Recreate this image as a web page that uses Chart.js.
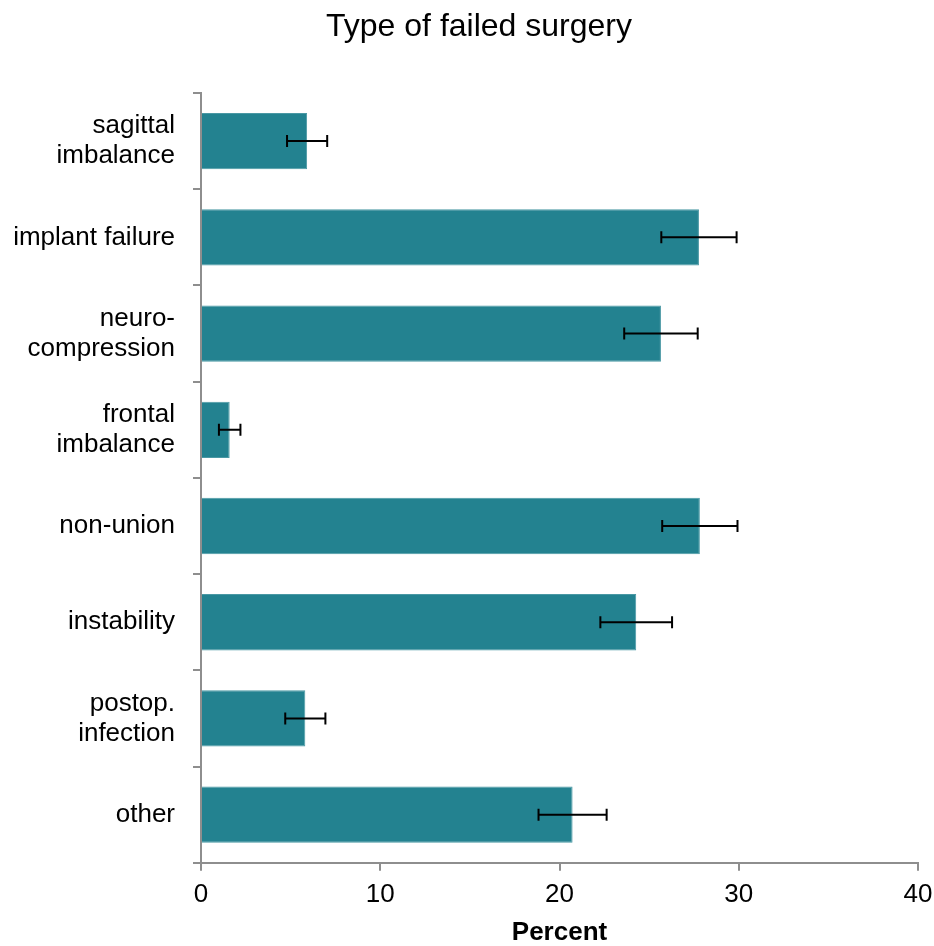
<!DOCTYPE html>
<html>
<head>
<meta charset="utf-8">
<script src="https://cdn.jsdelivr.net/npm/chart.js@4"></script>
<style>
html,body{margin:0;padding:0;background:#fff;}
#wrap{width:934px;height:946px;}
</style>
</head>
<body>
<div id="wrap"><canvas id="c" width="934" height="946"></canvas></div>
<script>
const categories = [["sagittal","imbalance"],"implant failure",["neuro-","compression"],["frontal","imbalance"],"non-union","instability",["postop.","infection"],"other"];
const percentValues = [5.92, 27.78, 25.66, 1.6, 27.83, 24.28, 5.82, 20.73];
const errorValues = [1.12, 2.1, 2.05, 0.6, 2.1, 2.0, 1.12, 1.9];
const xTicks = [0, 10, 20, 30, 40];

const FONT = "'Liberation Sans', Arial, sans-serif";
const AXIS_GRAY = '#8e8e8e';

const errorBarPlugin = {
  id: 'errorBars',
  afterLayout(chart) {
    // let the category labels use the space left of the axis box
    chart.scales.y.left = 0;
  },
  afterDatasetsDraw(chart) {
    const ctx = chart.ctx;
    const meta = chart.getDatasetMeta(0);
    const xs = chart.scales.x;
    ctx.save();
    ctx.strokeStyle = '#000';
    ctx.lineWidth = 2;
    meta.data.forEach((bar, i) => {
      const v = percentValues[i], e = errorValues[i];
      const x1 = xs.getPixelForValue(v - e);
      const x2 = xs.getPixelForValue(v + e);
      const y = bar.y;
      const cap = 6;
      ctx.beginPath();
      ctx.moveTo(x1, y); ctx.lineTo(x2, y);
      ctx.moveTo(x1, y - cap); ctx.lineTo(x1, y + cap);
      ctx.moveTo(x2, y - cap); ctx.lineTo(x2, y + cap);
      ctx.stroke();
    });
    ctx.restore();
  }
};

new Chart(document.getElementById('c'), {
  type: 'bar',
  data: {
    labels: categories,
    datasets: [{
      data: percentValues,
      backgroundColor: '#238290',
      borderColor: '#4a98a4',
      borderWidth: 1,
      barPercentage: 0.585,
      categoryPercentage: 1.0
    }]
  },
  options: {
    indexAxis: 'y',
    responsive: false,
    animation: false,
    devicePixelRatio: 1,
    layout: { padding: { left: 24, right: 0, top: 0, bottom: 0 } },
    plugins: {
      legend: { display: false },
      tooltip: { enabled: false },
      title: {
        display: true,
        text: 'Type of failed surgery',
        color: '#000',
        font: { family: FONT, size: 32, weight: 'normal', lineHeight: 1.2 },
        padding: { top: 8, bottom: 46.6 }
      }
    },
    scales: {
      x: {
        min: 0, max: 40,
        afterBuildTicks(scale) { scale.ticks = xTicks.map(v => ({ value: v })); },
        afterFit(scale) { scale.paddingRight = 16; scale.paddingLeft = 0; },
        grid: { drawOnChartArea: false, drawTicks: true, tickLength: 8, color: AXIS_GRAY, lineWidth: 2 },
        border: { display: true, color: AXIS_GRAY, width: 2 },
        ticks: { color: '#000', font: { family: FONT, size: 26, lineHeight: 1.2 }, padding: 8, maxRotation: 0 },
        title: { display: true, text: 'Percent', color: '#000', font: { family: FONT, size: 26, weight: 'bold', lineHeight: 1.0 }, padding: { top: 2, bottom: 0 } }
      },
      y: {
        offset: true,
        afterFit(scale) { scale.width = 177; },
        grid: { offset: true, drawOnChartArea: false, drawTicks: true, tickLength: 8, color: AXIS_GRAY, lineWidth: 2 },
        border: { display: true, color: AXIS_GRAY, width: 2 },
        ticks: { color: '#000', font: { family: FONT, size: 26, lineHeight: 1.15 }, padding: 18, crossAlign: 'near' }
      }
    }
  },
  plugins: [errorBarPlugin]
});
</script>
</body>
</html>
